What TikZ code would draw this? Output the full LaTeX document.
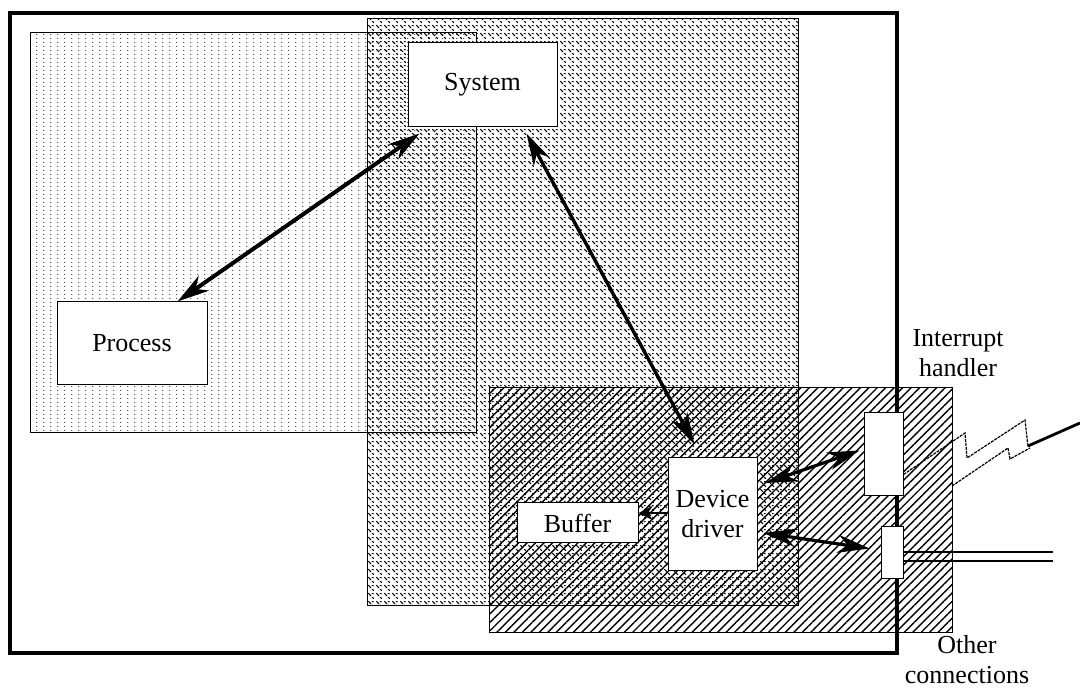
\documentclass[tikz,border=0pt]{standalone}
\usepackage{fontspec}
\setmainfont{Liberation Serif}
\usetikzlibrary{arrows.meta,patterns,patterns.meta}

\tikzdeclarepattern{
  name=procdots,
  type=uncolored,
  bounding box={(0pt,0pt) and (3.5pt,2pt)},
  tile size={(3.5pt,2pt)},
  code={\fill (1pt,1pt) circle (0.35pt);}
}
\tikzdeclarepattern{
  name=sysdash,
  type=uncolored,
  bounding box={(0pt,0pt) and (4pt,4pt)},
  tile size={(4pt,4pt)},
  code={
    \draw[line width=0.55pt] (0.2pt,3.8pt) -- (1.7pt,2.3pt);
    \draw[line width=0.55pt] (2.4pt,1.6pt) -- (3.3pt,0.7pt);
    \draw[line width=0.55pt] (2.2pt,3.6pt) -- (3.2pt,3.6pt);
  }
}

\begin{document}
\begin{tikzpicture}[x=0.5pt,y=-0.5pt,
  box/.style={draw,fill=white,line width=0.5pt,inner sep=0pt,align=center,font=\fontsize{13}{15}\selectfont},
  area/.style={draw,line width=0.5pt},
  txt/.style={align=center,inner sep=0pt,font=\fontsize{13}{15}\selectfont},
  biarrow/.style={{Stealth[length=16pt,width=9pt,inset=5pt]}-{Stealth[length=16pt,width=9pt,inset=5pt]},line width=2pt},
  boltline/.style={line width=0.6pt,dash pattern=on 1.5pt off 0.5pt}]
\useasboundingbox (0,0) rectangle (1080,688);

%Rahmen
\draw[line width=2pt] (10,13) rectangle (897,653);

%Bereiche
\draw[area,pattern=procdots] (30,33) rectangle (476,433);
\draw[area,pattern=sysdash] (367,19) rectangle (798,605);
\draw[area,pattern={Lines[angle=45,distance=3pt,line width=0.7pt]}] (489,388) rectangle (952,632);

%Kaesten
\node[box,minimum width=74.5pt,minimum height=42pt] (sys) at (482.5,85) {System};
\node[box,minimum width=75pt,minimum height=41.5pt] (proc) at (132,343.5) {Process};
\node[box,minimum width=60.5pt,minimum height=20pt] (buf) at (577.5,523) {Buffer};
\node[box,minimum width=44.5pt,minimum height=56pt] (drv) at (712.5,514) {Device\\driver};
\node[box,minimum width=19.5pt,minimum height=41.5pt] (irq) at (883.5,454.5) {};
\node[box,minimum width=11pt,minimum height=25.5pt] (oth) at (892,552.5) {};

%Pfeile
\draw[biarrow] ([xshift=6pt,yshift=-3pt]sys.south west) -- ([xshift=-15pt]proc.north east);
\draw[biarrow,line width=1.7pt] ([xshift=22pt,yshift=-3pt]sys.south) -- ([xshift=-9pt,yshift=6.5pt]drv.north);
\draw[biarrow,line width=1.6pt] ([xshift=4pt,yshift=15.5pt]drv.east) -- ([xshift=-2pt,yshift=2pt]irq.west);
\draw[biarrow,line width=1.6pt] ([xshift=3pt,yshift=-9.5pt]drv.east) -- ([xshift=-5.5pt,yshift=2pt]oth.west);
\coordinate (bufin) at ([yshift=5pt]buf.east);
\draw[-{Stealth[length=7pt,width=7pt]},line width=1.2pt] (drv.west |- bufin) -- (bufin);

%Blitz
\coordinate (bolt) at ([yshift=-10pt]irq.east);
\draw[boltline] (bolt) -- (965,433) -- (967,458) -- (1025,420) -- (1028,447);
\draw[boltline] (952,486) -- (1008,448) -- (1010,459) -- (1030,448);
\draw[line width=1.4pt] (1028,446) -- (1080,423);

%Leitungen
\foreach \y in {552,561}
{
	\coordinate (leit) at (1053,\y);
	\draw[line width=0.6pt] (oth.east |- leit) -- (leit);
}

%Beschriftung
\node[txt] (irqtext) at (958,353) {Interrupt\\handler};
\node[txt] (othtext) at (967,660) {Other\\connections};

\end{tikzpicture}
\end{document}
